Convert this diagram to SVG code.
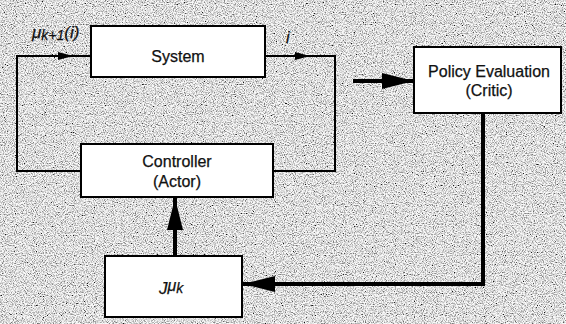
<svg xmlns="http://www.w3.org/2000/svg" width="566" height="324" viewBox="0 0 566 324">
  <defs>
    <filter id="grain" x="0" y="0" width="100%" height="100%" filterUnits="userSpaceOnUse">
      <feTurbulence type="fractalNoise" baseFrequency="0.9" numOctaves="2" seed="7" result="n"/>
      <feColorMatrix in="n" type="matrix" values="2.4 0 0 0 -0.45  2.4 0 0 0 -0.45  2.4 0 0 0 -0.45  0 0 0 0 1"/>
    </filter>
    <marker id="small" markerUnits="userSpaceOnUse" markerWidth="16" markerHeight="10" refX="15" refY="4" orient="auto">
      <path d="M0,0 L15,4 L0,8 Z" fill="#000"/>
    </marker>
    <marker id="big" markerUnits="userSpaceOnUse" markerWidth="34" markerHeight="18" refX="32" refY="8" orient="auto">
      <path d="M0,0 L32,8 L0,16 Z" fill="#000"/>
    </marker>
    <style>
      .box { fill: #fff; stroke: #000; stroke-width: 2; }
      .lbl { font-family: "Liberation Sans", Arial, sans-serif; font-size: 16px; fill: #111; stroke: #111; stroke-width: 0.25; text-anchor: middle; }
      .math { font-family: "Liberation Sans", Arial, sans-serif; font-style: italic; fill: #111; stroke: #111; stroke-width: 0.25; }
      .thin { fill: none; stroke: #000; stroke-width: 2; }
      .thick { fill: none; stroke: #000; stroke-width: 4; }
    </style>
  </defs>

  <!-- halftone-like paper background -->
  <rect x="0" y="0" width="566" height="324" fill="#c4c4c4"/>
  <rect x="0" y="0" width="566" height="324" filter="url(#grain)" opacity="0.9"/>

  <g id="connectors">
    <!-- feedback loop: controller -> system -->
    <path class="thin" d="M81,171 L17,171 L17,56 L73,56" marker-end="url(#small)"/>
    <path class="thin" d="M72,56 L91,56"/>
    <!-- system output -> controller -->
    <path class="thin" d="M265,56 L310,56" marker-end="url(#small)"/>
    <path class="thin" d="M309,56 L335,56 L335,171 L273,171"/>
    <!-- loop -> critic -->
    <path class="thick" d="M353,81 L414,81" marker-end="url(#big)"/>
    <!-- critic -> J -->
    <path class="thick" d="M483,113 L483,284 L243,284" marker-end="url(#big)"/>
    <!-- J -> controller -->
    <path class="thick" d="M175,256 L175,198" marker-end="url(#big)"/>
  </g>

  <g id="label-mu">
    <text class="math" x="32" y="38" font-size="17">μ<tspan font-size="14" dy="2">k+1</tspan><tspan font-size="17" dy="-2">(i)</tspan></text>
  </g>
  <g id="label-i">
    <text class="math" x="286" y="43" font-size="16">i</text>
  </g>

  <g id="system">
    <rect class="box" x="91" y="26" width="174" height="51"/>
    <text class="lbl" x="178" y="62" font-size="17">System</text>
  </g>

  <g id="controller">
    <rect class="box" x="81" y="144" width="192" height="53"/>
    <text class="lbl" x="177" y="167">Controller</text>
    <text class="lbl" x="177" y="187">(Actor)</text>
  </g>

  <g id="critic">
    <rect class="box" x="414" y="47" width="147" height="66"/>
    <text class="lbl" x="489" y="77">Policy Evaluation</text>
    <text class="lbl" x="489" y="96">(Critic)</text>
  </g>

  <g id="value">
    <rect class="box" x="105" y="256" width="137" height="61"/>
    <text class="math" x="159" y="294" font-size="17">J<tspan font-size="16" dy="-3">μ</tspan><tspan font-size="14" dy="2">k</tspan></text>
  </g>
</svg>
